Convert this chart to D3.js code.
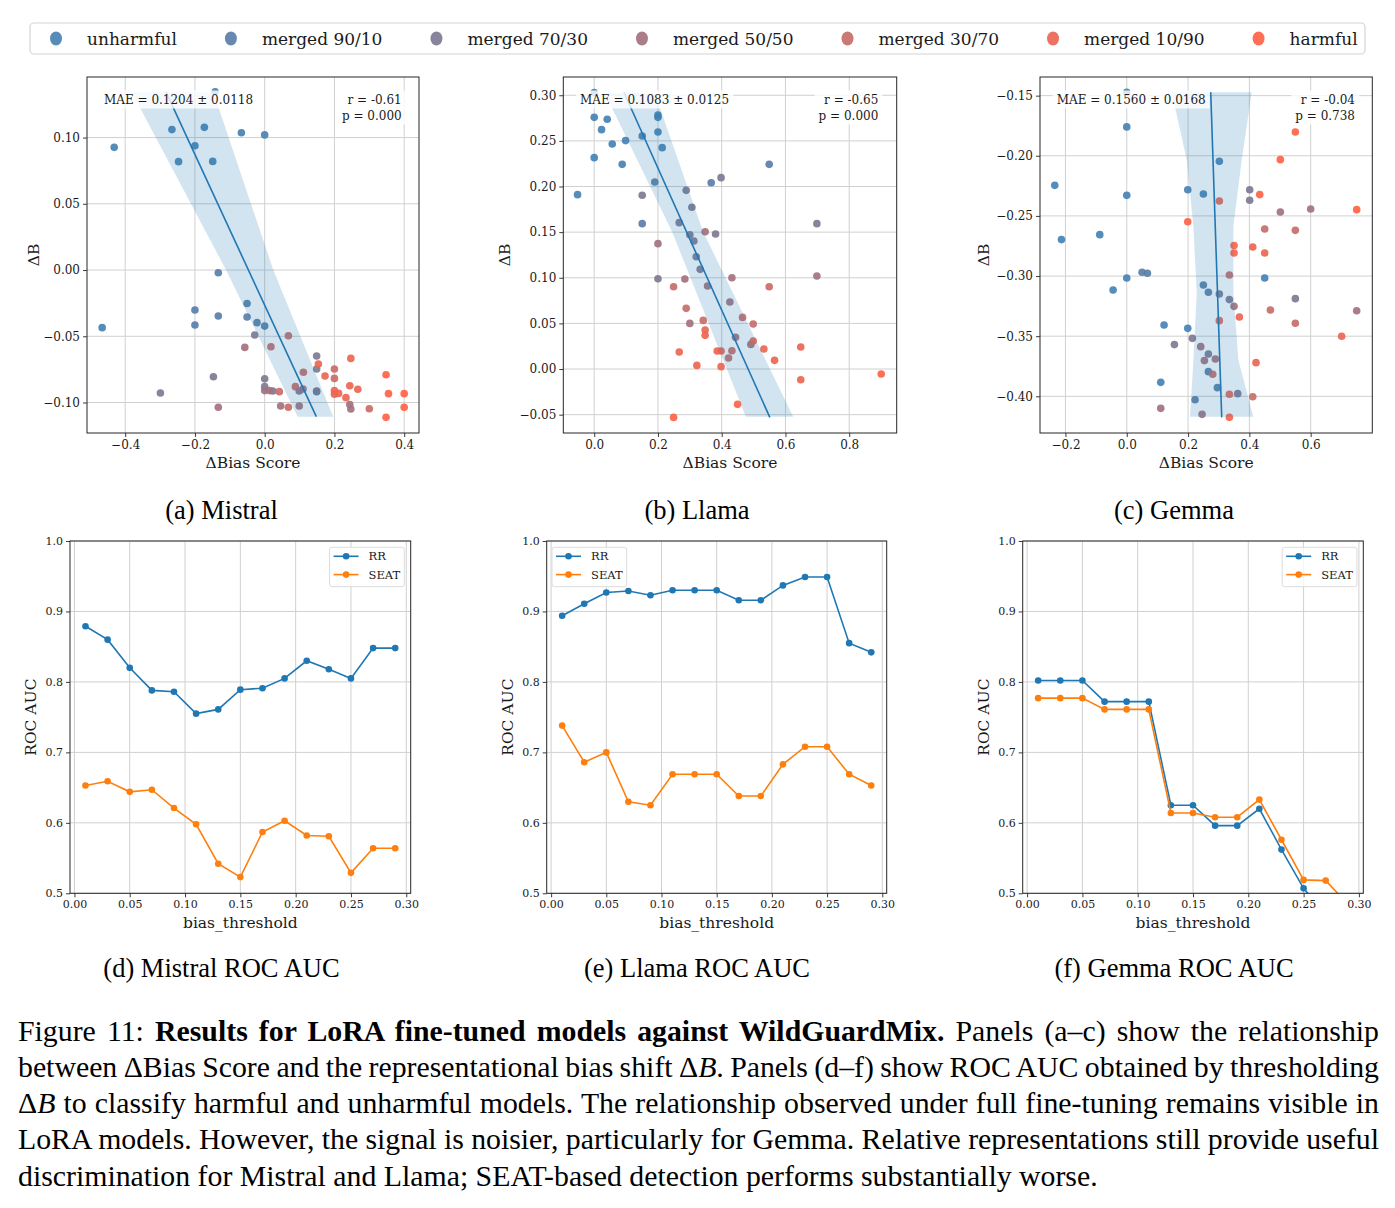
<!DOCTYPE html>
<html><head><meta charset="utf-8">
<script src="https://cdn.jsdelivr.net/npm/d3@7"></script>
<style>body{margin:0;background:#fff} svg{display:block}</style>
</head><body>
<svg id="fig" width="1395" height="1208"></svg>
<script>
// ---------------- DATA ----------------
const categories = ["unharmful","merged 90/10","merged 70/30","merged 50/50","merged 30/70","merged 10/90","harmful"];
const categoryColors = ["#4682b4","#587fa9","#7e7993","#a3727e","#c86c68","#ec6652","#ff6347"];

// scatter points: [ΔBias Score, ΔB, category index]
const mistralPoints = [
 [-0.142,0.1345,0],[-0.4315,0.0926,0],[-0.266,0.106,0],[-0.247,0.0818,0],[-0.2,0.0938,0],[-0.173,0.1077,0],[-0.149,0.082,0],[-0.0668,0.1036,0],[0.0,0.102,0],[-0.466,-0.0435,0],
 [-0.133,-0.002,1],[-0.2,-0.0302,1],[-0.2,-0.0415,1],[-0.133,-0.0347,1],[-0.0506,-0.0252,1],[-0.0506,-0.0355,1],[-0.022,-0.0397,1],[0.0,-0.0423,1],[0.149,-0.0918,1],
 [-0.299,-0.0928,2],[-0.147,-0.0805,2],[-0.0286,-0.049,2],[0.0,-0.082,2],[0.0,-0.088,2],[0.023,-0.0913,2],[0.099,-0.0913,2],[0.149,-0.0649,2],[0.149,-0.0747,2],[0.149,-0.0913,2],
 [-0.133,-0.1036,3],[-0.057,-0.0584,3],[0.0,-0.091,3],[0.0134,-0.091,3],[0.0458,-0.1026,3],[0.099,-0.1026,3],[0.247,-0.1049,3],[0.244,-0.1015,3],[0.11,-0.0898,3],
 [0.068,-0.0496,4],[0.018,-0.0579,4],[0.042,-0.0918,4],[0.068,-0.1036,4],[0.111,-0.0772,4],[0.088,-0.088,4],[0.3,-0.1047,4],[0.2,-0.0747,4],[0.2,-0.0818,4],
 [0.154,-0.0709,5],[0.173,-0.08,5],[0.2,-0.091,5],[0.2,-0.0938,5],[0.212,-0.0931,5],[0.233,-0.0963,5],[0.244,-0.0873,5],[0.267,-0.09,5],[0.247,-0.0667,5],
 [0.348,-0.079,6],[0.355,-0.0933,6],[0.348,-0.1112,6],[0.4,-0.0933,6],[0.4,-0.1036,6]
];
const llamaPoints = [
 [0,0.303,0],[0,0.2758,0],[0,0.2316,0],[0.023,0.2623,0],[0.0408,0.2737,0],[0.0565,0.2466,0],[0.0878,0.2243,0],[0.0983,0.2503,0],[-0.0523,0.1911,0],[0.1506,0.2554,0],[0.2,0.2784,0],[0.2,0.2758,0],[0.2,0.2598,0],[0.2133,0.2426,0],
 [0.1506,0.1593,1],[0.19,0.205,1],[0.367,0.2042,1],[0.549,0.2243,1],
 [0.398,0.2097,2],[0.2886,0.1958,2],[0.3064,0.1772,2],[0.2667,0.1604,2],[0.30,0.1472,2],[0.3127,0.1403,2],[0.3807,0.148,2],[0.1506,0.1904,2],[0.32,0.1231,2],[0.3325,0.1092,2],[0.6986,0.1593,2],[0.2,0.099,2],
 [0.2,0.1374,3],[0.348,0.1505,3],[0.2844,0.0986,3],[0.432,0.1001,3],[0.3556,0.091,3],[0.6986,0.1019,3],[0.4256,0.0734,3],[0.30,0.05,3],[0.4434,0.0347,3],[0.4915,0.027,3],
 [0.249,0.0902,4],[0.549,0.0902,4],[0.2886,0.0665,4],[0.342,0.0533,4],[0.4654,0.0566,4],[0.4988,0.0493,4],[0.432,0.0201,4],[0.4214,0.0121,4],
 [0.348,0.0427,5],[0.348,0.0369,5],[0.4988,0.0307,5],[0.5323,0.0219,5],[0.5658,0.0095,5],[0.3859,0.0197,5],[0.398,0.0197,5],[0.2667,0.0186,5],[0.648,0.0241,5],[0.648,-0.0117,5],[0.322,0.004,5],[0.398,0.0026,5],
 [0.4497,-0.0387,6],[0.249,-0.053,6],[0.9004,-0.0055,6]
];
const gemmaPoints = [
 [0,-0.1472,0],[0,-0.176,0],[0,-0.2329,0],[0,-0.3016,0],[-0.2348,-0.2246,0],[-0.213,-0.2697,0],[-0.088,-0.2656,0],[-0.0446,-0.3116,0],[0.302,-0.2046,0],[0.199,-0.2282,0],[0.25,-0.2318,0],[0.1217,-0.3407,0],[0.1109,-0.3884,0],[0.199,-0.3435,0],[0.45,-0.3016,0],
 [0.05,-0.2969,1],[0.0674,-0.2977,1],[0.25,-0.3074,1],[0.2663,-0.3135,1],[0.2663,-0.3795,1],[0.2957,-0.3928,1],[0.2228,-0.4028,1],
 [0.401,-0.2282,2],[0.401,-0.237,2],[0.55,-0.3188,2],[0.1554,-0.357,2],[0.214,-0.3518,2],[0.3348,-0.3196,2],[0.302,-0.3149,2],[0.362,-0.3978,2],[0.2663,-0.3648,2],
 [0.6,-0.2442,3],[0.501,-0.2467,3],[0.75,-0.3288,3],[0.2413,-0.3587,3],[0.2533,-0.3703,3],[0.2891,-0.369,3],[0.35,-0.3252,3],[0.1109,-0.41,3],[0.2457,-0.415,3],
 [0.45,-0.2609,4],[0.55,-0.262,4],[0.4685,-0.3282,4],[0.55,-0.3393,4],[0.3348,-0.2991,4],[0.2804,-0.3817,4],[0.411,-0.4003,4],
 [0.302,-0.2376,5],[0.45,-0.2808,5],[0.302,-0.3371,5],[0.3674,-0.334,5],[0.3348,-0.3983,5],[0.4217,-0.372,5],[0.701,-0.3501,5],[0.411,-0.2758,5],
 [0.55,-0.1802,6],[0.501,-0.2032,6],[0.4337,-0.2323,6],[0.75,-0.2448,6],[0.199,-0.2548,6],[0.35,-0.2747,6],[0.35,-0.2808,6],[0.3348,-0.4175,6]
];

// regression fit lines (endpoints [x, y]) and confidence band edges ([x, y], top to bottom)
const mistralFit = [[-0.2824,0.1341],[0.148,-0.1107]];
const mistralBandLeft  = [[-0.381,0.1341],[-0.1107,0.0],[0.0945,-0.1107]];
const mistralBandRight = [[-0.147,0.1341],[0.0248,0.0],[0.1967,-0.1107]];
const llamaFit = [[0.0931,0.3033],[0.551,-0.053]];
const llamaBandLeft  = [[0.0335,0.3022],[0.2447,0.1502],[0.4758,-0.0522]];
const llamaBandRight = [[0.1903,0.3022],[0.342,0.1502],[0.6243,-0.0522]];
const gemmaFit = [[0.2739,-0.1472],[0.3098,-0.4175]];
const gemmaBandLeft  = [[0.1467,-0.1472],[0.1957,-0.2035],[0.2174,-0.2589],[0.2283,-0.3144],[0.2174,-0.3698],[0.2065,-0.4169]];
const gemmaBandRight = [[0.4076,-0.1472],[0.375,-0.2035],[0.3478,-0.2589],[0.3478,-0.3144],[0.3641,-0.3698],[0.413,-0.4169]];

const mistralStats = ["MAE = 0.1204 ± 0.0118","r = -0.61","p = 0.000"];
const llamaStats   = ["MAE = 0.1083 ± 0.0125","r = -0.65","p = 0.000"];
const gemmaStats   = ["MAE = 0.1560 ± 0.0168","r = -0.04","p = 0.738"];

const mistralXTicks = [-0.4,-0.2,0.0,0.2,0.4];
const mistralYTicks = [-0.10,-0.05,0.00,0.05,0.10];
const llamaXTicks = [0.0,0.2,0.4,0.6,0.8];
const llamaYTicks = [-0.05,0.00,0.05,0.10,0.15,0.20,0.25,0.30];
const gemmaXTicks = [-0.2,0.0,0.2,0.4,0.6];
const gemmaYTicks = [-0.40,-0.35,-0.30,-0.25,-0.20,-0.15];

// ROC AUC vs bias threshold
const thresholds = [0.01,0.03,0.05,0.07,0.09,0.11,0.13,0.15,0.17,0.19,0.21,0.23,0.25,0.27,0.29];
const mistralRR   = [0.879,0.860,0.820,0.788,0.786,0.755,0.761,0.789,0.791,0.805,0.830,0.818,0.805,0.848,0.848];
const mistralSEAT = [0.653,0.659,0.644,0.647,0.621,0.598,0.542,0.523,0.587,0.603,0.582,0.581,0.529,0.564,0.564];
const llamaRR     = [0.894,0.911,0.927,0.929,0.923,0.930,0.930,0.930,0.916,0.916,0.937,0.949,0.949,0.855,0.842];
const llamaSEAT   = [0.738,0.686,0.700,0.630,0.625,0.669,0.669,0.669,0.638,0.638,0.683,0.708,0.708,0.669,0.653];
const gemmaRR     = [0.802,0.802,0.802,0.772,0.772,0.772,0.625,0.625,0.596,0.596,0.620,0.562,0.507,0.470,0.460];
const gemmaSEAT   = [0.777,0.777,0.777,0.761,0.761,0.761,0.614,0.614,0.608,0.608,0.633,0.576,0.519,0.518,0.485];
const rocXTicks = [0.00,0.05,0.10,0.15,0.20,0.25,0.30];
const rocYTicks = [0.5,0.6,0.7,0.8,0.9,1.0];
const rocSeriesNames = ["RR","SEAT"];
const rocSeriesColors = ["#1f77b4","#ff7f0e"];

const subCaptionsTop = ["(a) Mistral","(b) Llama","(c) Gemma"];
const subCaptionsBottom = ["(d) Mistral ROC AUC","(e) Llama ROC AUC","(f) Gemma ROC AUC"];
const captionLines = [
 [["Figure 11: ","n"],["Results for LoRA fine-tuned models against WildGuardMix.","b"],[" Panels (a–c) show the relationship","n"]],
 [["between ΔBias Score and the representational bias shift Δ","n"],["B","i"],[". Panels (d–f) show ROC AUC obtained by thresholding","n"]],
 [["Δ","n"],["B","i"],[" to classify harmful and unharmful models. The relationship observed under full fine-tuning remains visible in","n"]],
 [["LoRA models. However, the signal is noisier, particularly for Gemma. Relative representations still provide useful","n"]],
 [["discrimination for Mistral and Llama; SEAT-based detection performs substantially worse.","n"]]
];

// ---------------- DRAWING ----------------
const svg = d3.select("#fig");
svg.append("rect").attr("width",1395).attr("height",1208).attr("fill","#fff");
const FONT = "'DejaVu Serif', serif";
const TFONT = "'Liberation Serif','Times New Roman',serif";
const GRID = "#d0d0d0", SPINE = "#262626", TXT = "#1a1a1a";

function styleAxis(sel, fs){
  sel.select(".domain").remove();
  sel.selectAll(".tick line").attr("stroke",SPINE).attr("stroke-width",0.9);
  sel.selectAll(".tick text").attr("font-family",FONT).attr("font-size",fs).attr("fill",TXT);
}
function addBoxedText(g, x, y, lines, anchor, fs){
  const tg = g.append("g");
  const bg = tg.append("rect").attr("fill","#fff").attr("fill-opacity",0.8);
  const texts = lines.map((s,i)=> tg.append("text").attr("x",x).attr("y",y+i*16)
     .attr("text-anchor",anchor).attr("font-family",FONT).attr("font-size",fs).attr("fill",TXT).text(s));
  let x0=Infinity,y0=Infinity,x1=-Infinity,y1=-Infinity;
  texts.forEach(t=>{const b=t.node().getBBox(); x0=Math.min(x0,b.x);y0=Math.min(y0,b.y);x1=Math.max(x1,b.x+b.width);y1=Math.max(y1,b.y+b.height);});
  bg.attr("x",x0-4).attr("y",y0-2).attr("width",x1-x0+8).attr("height",y1-y0+4);
}

const scatterPanels = [
 {pts:mistralPoints, fit:mistralFit, bl:mistralBandLeft, br:mistralBandRight, stats:mistralStats,
  xd:[-0.5095,0.4425], yd:[-0.123,0.1457], xt:mistralXTicks, yt:mistralYTicks, xf:".1f", yf:".2f",
  L:87, R:419, ylx:33.3, mae:104, rp:401.7},
 {pts:llamaPoints, fit:llamaFit, bl:llamaBandLeft, br:llamaBandRight, stats:llamaStats,
  xd:[-0.097,0.949], yd:[-0.0701,0.320], xt:llamaXTicks, yt:llamaYTicks, xf:".1f", yf:".2f",
  L:563.3, R:896.7, ylx:505, mae:580, rp:878.3},
 {pts:gemmaPoints, fit:gemmaFit, bl:gemmaBandLeft, br:gemmaBandRight, stats:gemmaStats,
  xd:[-0.283,0.801], yd:[-0.4305,-0.1345], xt:gemmaXTicks, yt:gemmaYTicks, xf:".1f", yf:".2f",
  L:1040, R:1372.3, ylx:983.3, mae:1056.7, rp:1355}
];
const sTop = 77, sBot = 433;

scatterPanels.forEach(p=>{
  const x = d3.scaleLinear().domain(p.xd).range([p.L,p.R]);
  const y = d3.scaleLinear().domain(p.yd).range([sBot,sTop]);
  const g = svg.append("g");
  g.append("g").selectAll("line").data(p.xt).join("line")
    .attr("x1",d=>x(d)).attr("x2",d=>x(d)).attr("y1",sTop).attr("y2",sBot).attr("stroke",GRID).attr("stroke-width",1);
  g.append("g").selectAll("line").data(p.yt).join("line")
    .attr("y1",d=>y(d)).attr("y2",d=>y(d)).attr("x1",p.L).attr("x2",p.R).attr("stroke",GRID).attr("stroke-width",1);
  g.append("g").attr("transform",`translate(0,${sBot})`)
    .call(d3.axisBottom(x).tickValues(p.xt).tickFormat(d3.format(p.xf)).tickSize(4).tickPadding(3)).call(s=>styleAxis(s,12));
  g.append("g").attr("transform",`translate(${p.L},0)`)
    .call(d3.axisLeft(y).tickValues(p.yt).tickFormat(d3.format(p.yf)).tickSize(4).tickPadding(3)).call(s=>styleAxis(s,12));
  // points
  g.append("g").selectAll("circle").data(p.pts).join("circle")
    .attr("cx",d=>x(d[0])).attr("cy",d=>y(d[1])).attr("r",3.8)
    .attr("fill",d=>categoryColors[d[2]]).attr("fill-opacity",0.92);
  // band
  const band = p.bl.concat(p.br.slice().reverse());
  g.append("path").attr("d", d3.line().x(d=>x(d[0])).y(d=>y(d[1]))(band)+"Z")
    .attr("fill","#1f77b4").attr("fill-opacity",0.2);
  g.append("path").attr("d", d3.line().x(d=>x(d[0])).y(d=>y(d[1]))(p.fit))
    .attr("stroke","#1f77b4").attr("stroke-width",1.6).attr("fill","none");
  g.append("rect").attr("x",p.L).attr("y",sTop).attr("width",p.R-p.L).attr("height",sBot-sTop)
    .attr("fill","none").attr("stroke",SPINE).attr("stroke-width",1);
  addBoxedText(g, p.mae, 103.5, [p.stats[0]], "start", 12);
  addBoxedText(g, p.rp, 103.5, [p.stats[1],p.stats[2]], "end", 12);
  g.append("text").attr("x",(p.L+p.R)/2).attr("y",468).attr("text-anchor","middle")
    .attr("font-family",FONT).attr("font-size",15.5).attr("fill",TXT).text("ΔBias Score");
  g.append("text").attr("transform",`translate(${p.ylx},${(sTop+sBot)/2}) rotate(-90)`).attr("dy","0.35em")
    .attr("text-anchor","middle").attr("font-family",FONT).attr("font-size",15.5).attr("fill",TXT).text("ΔB");
});

// ROC panels
const rocPanels = [
 {s:[mistralRR,mistralSEAT], L:70, R:410.7, legend:"right"},
 {s:[llamaRR,llamaSEAT], L:546.7, R:886.7, legend:"left"},
 {s:[gemmaRR,gemmaSEAT], L:1022.7, R:1363.3, legend:"right"}
];
const rTop = 541, rBot = 893.3;
const defs = svg.append("defs");
rocPanels.forEach((p,pi)=>{
  const x = d3.scaleLinear().domain([-0.004,0.304]).range([p.L,p.R]);
  const y = d3.scaleLinear().domain([0.5,1.0]).range([rBot,rTop]);
  const g = svg.append("g");
  defs.append("clipPath").attr("id","clip"+pi).append("rect")
    .attr("x",p.L).attr("y",rTop).attr("width",p.R-p.L).attr("height",rBot-rTop);
  g.append("g").selectAll("line").data(rocXTicks).join("line")
    .attr("x1",d=>x(d)).attr("x2",d=>x(d)).attr("y1",rTop).attr("y2",rBot).attr("stroke",GRID).attr("stroke-width",1);
  g.append("g").selectAll("line").data(rocYTicks).join("line")
    .attr("y1",d=>y(d)).attr("y2",d=>y(d)).attr("x1",p.L).attr("x2",p.R).attr("stroke",GRID).attr("stroke-width",1);
  g.append("g").attr("transform",`translate(0,${rBot})`)
    .call(d3.axisBottom(x).tickValues(rocXTicks).tickFormat(d3.format(".2f")).tickSize(4).tickPadding(3)).call(s=>styleAxis(s,11));
  g.append("g").attr("transform",`translate(${p.L},0)`)
    .call(d3.axisLeft(y).tickValues(rocYTicks).tickFormat(d3.format(".1f")).tickSize(4).tickPadding(3)).call(s=>styleAxis(s,11));
  const plot = g.append("g").attr("clip-path",`url(#clip${pi})`);
  p.s.forEach((vals,si)=>{
    const data = thresholds.map((t,i)=>[t,vals[i]]);
    plot.append("path").attr("d",d3.line().x(d=>x(d[0])).y(d=>y(d[1]))(data))
      .attr("fill","none").attr("stroke",rocSeriesColors[si]).attr("stroke-width",1.6);
    plot.append("g").selectAll("circle").data(data).join("circle")
      .attr("cx",d=>x(d[0])).attr("cy",d=>y(d[1])).attr("r",3.3).attr("fill",rocSeriesColors[si]);
  });
  g.append("rect").attr("x",p.L).attr("y",rTop).attr("width",p.R-p.L).attr("height",rBot-rTop)
    .attr("fill","none").attr("stroke",SPINE).attr("stroke-width",1);
  // legend
  const lw = 74.7, lh = 39.4;
  const lx = p.legend==="right" ? p.R-6.4-lw : p.L+5.3;
  const ly = 547.3;
  const lg = g.append("g");
  lg.append("rect").attr("x",lx).attr("y",ly).attr("width",lw).attr("height",lh).attr("rx",2.5)
    .attr("fill","#fff").attr("fill-opacity",0.8).attr("stroke","#dcdcdc");
  rocSeriesNames.forEach((n,si)=>{
    const cy = ly+9+si*18.3;
    lg.append("line").attr("x1",lx+4).attr("x2",lx+29).attr("y1",cy).attr("y2",cy)
      .attr("stroke",rocSeriesColors[si]).attr("stroke-width",1.6);
    lg.append("circle").attr("cx",lx+16.5).attr("cy",cy).attr("r",3.3).attr("fill",rocSeriesColors[si]);
    lg.append("text").attr("x",lx+39).attr("y",cy+4).attr("font-family",FONT).attr("font-size",11.5)
      .attr("fill",TXT).text(n);
  });
  g.append("text").attr("x",(p.L+p.R)/2).attr("y",928).attr("text-anchor","middle")
    .attr("font-family",FONT).attr("font-size",15.5).attr("fill",TXT).text("bias_threshold");
  g.append("text").attr("transform",`translate(${p.L-39},${(rTop+rBot)/2}) rotate(-90)`).attr("dy","0.35em")
    .attr("text-anchor","middle").attr("font-family",FONT).attr("font-size",15.5).attr("fill",TXT).text("ROC AUC");
});

// top legend
svg.append("rect").attr("x",30).attr("y",23).attr("width",1335).attr("height",31).attr("rx",4)
  .attr("fill","#fff").attr("stroke","#d4d4d4").attr("stroke-width",1.2);
let lxp = 56;
categories.forEach((c,i)=>{
  svg.append("ellipse").attr("cx",lxp).attr("cy",38.5).attr("rx",6).attr("ry",7)
    .attr("fill",categoryColors[i]).attr("fill-opacity",0.92);
  const t = svg.append("text").attr("x",lxp+31).attr("y",44.5).attr("font-family",FONT).attr("font-size",17)
    .attr("fill",TXT).text(c);
  lxp = lxp + 31 + t.node().getComputedTextLength() + 54;
});

// sub-captions
const capCenters = [221.5,697,1174];
subCaptionsTop.forEach((s,i)=> svg.append("text").attr("x",capCenters[i]).attr("y",519).attr("text-anchor","middle")
  .attr("font-family",TFONT).attr("font-size",26.5).attr("fill","#000").text(s));
subCaptionsBottom.forEach((s,i)=> svg.append("text").attr("x",capCenters[i]).attr("y",977).attr("text-anchor","middle")
  .attr("font-family",TFONT).attr("font-size",26.5).attr("fill","#000").text(s));

// figure caption
const capBase = [1040.5,1076.8,1113,1149.3,1185.5];
captionLines.forEach((segs,i)=>{
  const t = svg.append("text").attr("x",18).attr("y",capBase[i]).attr("font-family",TFONT)
    .attr("font-size",29.8).attr("fill","#000").style("white-space","pre");
  segs.forEach(([s,st])=> t.append("tspan").text(s)
    .attr("font-weight",st==="b"?"bold":null).attr("font-style",st==="i"?"italic":null));
  if(i<captionLines.length-1){
    const w = t.node().getComputedTextLength();
    const n = segs.map(s=>s[0]).join("").split(" ").length-1;
    t.attr("word-spacing",(1361-w)/n);
  }
});
</script></body></html>
